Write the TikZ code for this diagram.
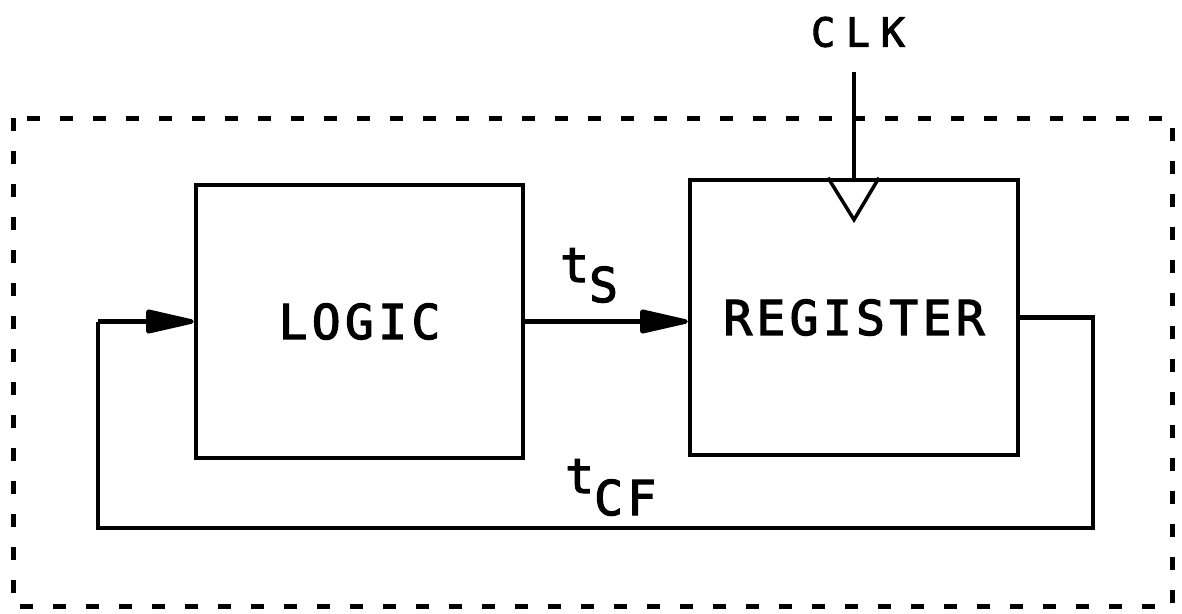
\documentclass[tikz,border=0pt]{standalone}
\usepackage{fontspec}
\usetikzlibrary{arrows.meta}
\newfontfamily\plotfont[LetterSpace=9,FakeBold=2.5]{DejaVu Sans Mono}
\newfontfamily\clkfont[LetterSpace=27,FakeBold=2.5]{DejaVu Sans Mono}
\begin{document}
\begin{tikzpicture}[x=1pt,y=-1pt,
  blockbox/.style={draw,line width=4.5pt,inner sep=0pt,font=\plotfont\fontsize{48}{48}\selectfont},
  wire/.style={line width=4.5pt,line join=miter},
  arr/.style={wire,-{Triangle[length=56pt,width=24pt,round]}},
  lbl/.style={font=\plotfont\fontsize{48}{48}\selectfont,inner sep=0pt},
  frame/.style={line width=5pt,dash pattern=on 13pt off 20pt}]
\useasboundingbox (0,0) rectangle (1182,613);
\draw[frame] (13,118) rectangle (1172,606);
\node[blockbox,minimum width=327pt,minimum height=273pt] (logic) at (359.5,321.5) {LOGIC};
\node[blockbox,minimum width=328pt,minimum height=275pt] (reg) at (854,317.5) {REGISTER};
\node[font=\clkfont\fontsize{40}{40}\selectfont,inner sep=0pt] (clk) at (858,32) {CLK};
\coordinate (clkin) at (854,72);
\draw[line width=3.5pt] (clkin) -- (reg.north);
\draw[line width=3.5pt,line join=miter] ([xshift=-26pt]reg.north) -- ([yshift=-42pt]reg.north) -- ([xshift=25pt]reg.north);
\draw[arr] (logic.east) -- (logic.east -| reg.west);
\coordinate (fr) at (1093,317.5);
\coordinate (fbr) at (1093,528);
\coordinate (fbl) at (98,528);
\coordinate (fl) at (98,321.5);
\draw[wire] (reg.east) -- (fr) -- (fbr) -- (fbl) -- (fl);
\draw[arr] (fl) -- (logic.west);
\node[lbl,anchor=base west] (ts) at (560,282) {t\raisebox{-20pt}{S}};
\node[lbl,anchor=base west] (tcf) at (565,493) {t\raisebox{-22pt}{CF}};
\end{tikzpicture}
\end{document}
